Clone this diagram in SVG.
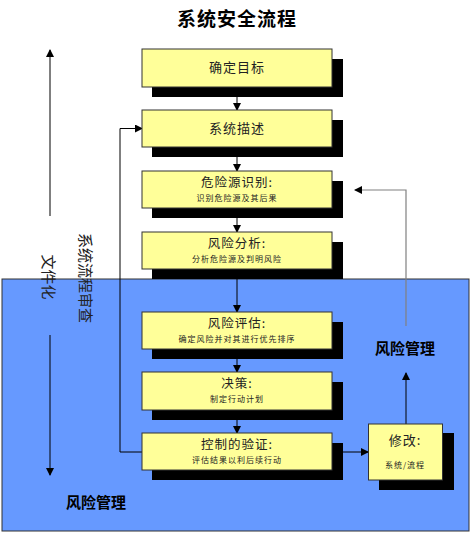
<svg xmlns="http://www.w3.org/2000/svg" width="472" height="534" viewBox="0 0 472 534">
<style>
.box{fill:#FFFF99;stroke:#333333;stroke-width:1}
.sh{fill:#000000}
.t{font-family:"Noto Sans CJK SC",sans-serif;fill:#222222;text-anchor:middle}
.m{font-size:13px;letter-spacing:1px}
.m2{font-size:12.5px;letter-spacing:1px}
.s{font-size:8px;letter-spacing:1px}
.b{font-weight:bold;font-size:15px;fill:#000000}
.ln{stroke:#000000;stroke-width:1;fill:none}
.gl{stroke:#808080;stroke-width:1.2;fill:none}
</style>
<defs>
<marker id="ah" markerWidth="8" markerHeight="8" refX="7" refY="4" orient="auto" markerUnits="userSpaceOnUse">
<path d="M0,0 L8,4 L0,8 Z" fill="#000000"/>
</marker>
</defs>
<rect x="0" y="0" width="472" height="534" fill="#ffffff"/>
<rect x="2" y="279" width="467" height="252" fill="#6699FF" stroke="#333333" stroke-width="1"/>
<text class="t" x="237" y="26" style="font-size:19px;font-weight:bold;fill:#000;letter-spacing:1px">系统安全流程</text>

<g id="connectors">
<line class="ln" x1="50" y1="216" x2="50" y2="50" marker-end="url(#ah)"/>
<line class="ln" x1="50" y1="335" x2="50" y2="475" marker-end="url(#ah)"/>
<line class="ln" x1="237" y1="87" x2="237" y2="110" marker-end="url(#ah)"/>
<line class="ln" x1="237" y1="147" x2="237" y2="171" marker-end="url(#ah)"/>
<line class="ln" x1="237" y1="208" x2="237" y2="232" marker-end="url(#ah)"/>
<line class="ln" x1="237" y1="269" x2="237" y2="312" marker-end="url(#ah)"/>
<line class="ln" x1="237" y1="349" x2="237" y2="372" marker-end="url(#ah)"/>
<line class="ln" x1="237" y1="410" x2="237" y2="433" marker-end="url(#ah)"/>
<polyline class="ln" points="142,452 120,452 120,128.5 142,128.5" marker-end="url(#ah)"/>
<line class="ln" x1="332" y1="452" x2="368" y2="452" marker-end="url(#ah)"/>
<line class="ln" x1="406" y1="424" x2="406" y2="373" marker-end="url(#ah)"/>
<polyline class="gl" points="406,326 406,190 355,190" marker-end="url(#ah)"/>
</g>

<text class="t" transform="translate(43,277) rotate(90)" style="font-size:15px" text-anchor="middle">文件化</text>
<text class="t" transform="translate(80,278) rotate(90)" style="font-size:15px" text-anchor="middle">系统流程审查</text>

<g id="n1">
<rect class="sh" x="152" y="59" width="191" height="38"/>
<rect class="box" x="142" y="49" width="190" height="38"/>
<text class="t m" x="237" y="72">确定目标</text>
</g>
<g id="n2">
<rect class="sh" x="152" y="120" width="191" height="37"/>
<rect class="box" x="142" y="110" width="190" height="37"/>
<text class="t m" x="237" y="133">系统描述</text>
</g>
<g id="n3">
<rect class="sh" x="152" y="181" width="191" height="37"/>
<rect class="box" x="142" y="171" width="190" height="37"/>
<text class="t m2" x="237" y="186.5">危险源识别:</text>
<text class="t s" x="237" y="201">识别危险源及其后果</text>
</g>
<g id="n4">
<rect class="sh" x="152" y="242" width="191" height="37"/>
<rect class="box" x="142" y="232" width="190" height="37"/>
<text class="t m2" x="237" y="247.5">风险分析:</text>
<text class="t s" x="237" y="262">分析危险源及判明风险</text>
</g>
<g id="n5">
<rect class="sh" x="152" y="322" width="191" height="37"/>
<rect class="box" x="142" y="312" width="190" height="37"/>
<text class="t m2" x="237" y="327.5">风险评估:</text>
<text class="t s" x="237" y="342">确定风险并对其进行优先排序</text>
</g>
<g id="n6">
<rect class="sh" x="152" y="382" width="191" height="38"/>
<rect class="box" x="142" y="372" width="190" height="38"/>
<text class="t m2" x="237" y="387.5">决策:</text>
<text class="t s" x="237" y="402">制定行动计划</text>
</g>
<g id="n7">
<rect class="sh" x="152" y="443" width="191" height="37"/>
<rect class="box" x="142" y="433" width="190" height="37"/>
<text class="t m2" x="237" y="448.5">控制的验证:</text>
<text class="t s" x="237" y="463">评估结果以利后续行动</text>
</g>
<g id="n8">
<rect class="sh" x="379" y="433" width="75" height="57"/>
<rect class="box" x="368.5" y="424" width="74" height="56"/>
<text class="t m" x="405" y="445">修改:</text>
<text class="t s" x="405" y="468">系统/流程</text>
</g>

<text class="t b" x="405" y="354">风险管理</text>
<text class="t b" x="96" y="508">风险管理</text>
</svg>
